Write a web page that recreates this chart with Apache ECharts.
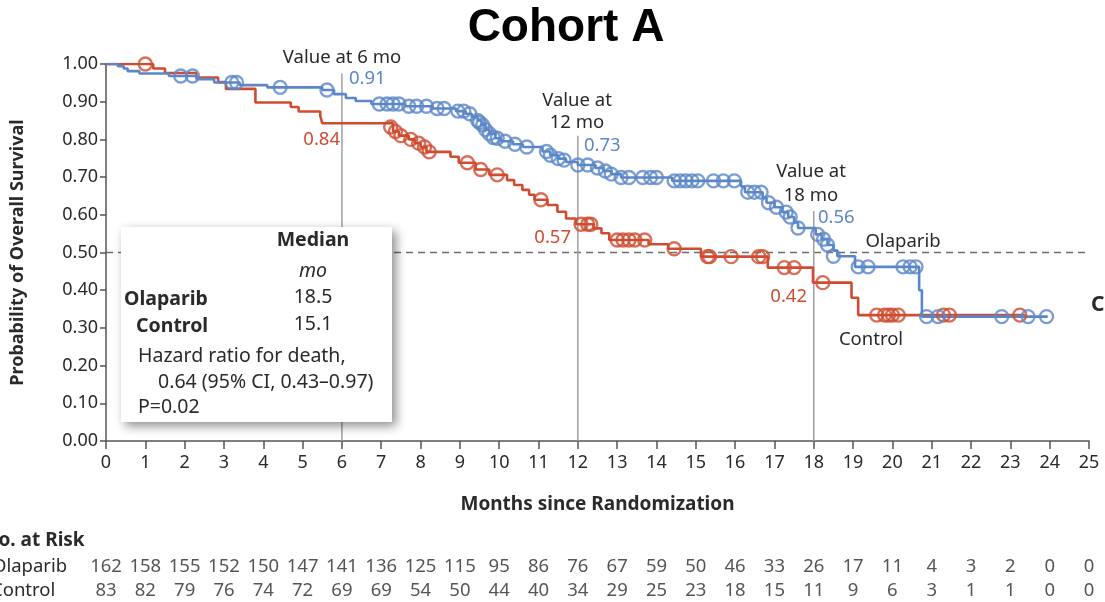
<!DOCTYPE html>
<html><head><meta charset="utf-8">
<script src="https://cdn.jsdelivr.net/npm/echarts/dist/echarts.min.js"></script>
<style>html,body{margin:0;padding:0;background:#fff}#c{width:1105px;height:602px}</style>
</head><body><div id="c"></div>
<script>
// Kaplan-Meier steps: [month, survival after step]
const olaparibSteps = [[0,1.0],[0.3,0.994],[0.45,0.988],[0.55,0.981],[0.85,0.975],[1.6,0.968],[2.3,0.96],[2.75,0.951],[3.4,0.944],[4.1,0.938],[5.5,0.931],[5.8,0.92],[6.1,0.91],[6.35,0.902],[6.75,0.894],[7.6,0.888],[8.3,0.882],[8.9,0.875],[9.15,0.868],[9.3,0.86],[9.45,0.85],[9.55,0.838],[9.65,0.826],[9.75,0.815],[9.9,0.803],[10.05,0.795],[10.35,0.787],[10.6,0.78],[11.1,0.768],[11.3,0.758],[11.5,0.749],[11.7,0.74],[12.0,0.732],[12.45,0.724],[12.65,0.716],[12.85,0.708],[13.1,0.699],[14.4,0.69],[16.15,0.675],[16.25,0.66],[16.7,0.645],[16.8,0.632],[17.0,0.62],[17.2,0.607],[17.35,0.594],[17.5,0.58],[17.6,0.565],[18.05,0.548],[18.2,0.535],[18.35,0.52],[18.5,0.505],[18.6,0.49],[19.05,0.462],[20.68,0.40],[20.75,0.33],[23.95,0.33]];
const olaparibCensors = [[1.9,0.968],[2.2,0.968],[3.2,0.951],[3.32,0.951],[4.43,0.938],[5.62,0.931],[6.95,0.894],[7.15,0.894],[7.3,0.894],[7.45,0.894],[7.7,0.888],[7.9,0.888],[8.15,0.888],[8.42,0.882],[8.6,0.882],[8.95,0.875],[9.1,0.875],[9.25,0.868],[9.45,0.85],[9.5,0.845],[9.58,0.838],[9.65,0.826],[9.75,0.815],[9.85,0.805],[9.95,0.803],[10.15,0.795],[10.4,0.787],[10.7,0.78],[11.2,0.768],[11.3,0.758],[11.5,0.749],[11.65,0.745],[12.0,0.732],[12.25,0.732],[12.5,0.724],[12.7,0.716],[12.85,0.708],[13.1,0.699],[13.3,0.699],[13.65,0.699],[13.85,0.699],[14.0,0.699],[14.45,0.69],[14.6,0.69],[14.75,0.69],[14.9,0.69],[15.05,0.69],[15.45,0.69],[15.7,0.69],[15.98,0.69],[16.32,0.66],[16.49,0.66],[16.66,0.66],[16.85,0.632],[17.05,0.62],[17.3,0.607],[17.4,0.594],[17.6,0.565],[18.1,0.548],[18.25,0.535],[18.35,0.52],[18.5,0.49],[19.13,0.462],[19.38,0.462],[20.27,0.462],[20.45,0.462],[20.6,0.462],[20.87,0.33],[21.16,0.33],[22.78,0.33],[23.45,0.33],[23.92,0.33]];
const controlSteps = [[0,1.0],[1.2,0.988],[1.5,0.976],[2.3,0.964],[2.85,0.952],[3.05,0.934],[3.8,0.898],[4.7,0.886],[4.9,0.874],[5.45,0.862],[5.5,0.843],[7.3,0.821],[7.45,0.81],[7.7,0.80],[7.85,0.79],[8.0,0.78],[8.15,0.767],[8.76,0.754],[8.97,0.738],[9.4,0.72],[9.75,0.706],[10.2,0.692],[10.38,0.679],[10.59,0.666],[10.76,0.653],[10.9,0.64],[11.23,0.626],[11.48,0.608],[11.7,0.59],[11.95,0.575],[12.4,0.564],[12.6,0.551],[12.8,0.533],[13.8,0.522],[14.3,0.51],[15.13,0.489],[16.83,0.46],[17.98,0.42],[18.96,0.38],[19.13,0.334],[23.37,0.334]];
const controlCensors = [[1.0,1.0],[7.24,0.833],[7.36,0.821],[7.5,0.81],[7.75,0.80],[7.95,0.79],[8.1,0.78],[8.22,0.767],[9.19,0.738],[9.53,0.72],[9.95,0.706],[11.06,0.64],[12.08,0.575],[12.25,0.575],[12.33,0.575],[13.0,0.533],[13.15,0.533],[13.3,0.533],[13.45,0.533],[13.7,0.533],[14.45,0.51],[15.3,0.489],[15.35,0.489],[15.9,0.489],[16.6,0.489],[16.7,0.489],[17.25,0.46],[17.5,0.46],[18.23,0.42],[19.6,0.334],[19.8,0.334],[19.9,0.334],[20.0,0.334],[20.15,0.334],[21.3,0.334],[21.45,0.334],[23.24,0.334]];
const refTimes = [6, 12, 18];
const refTops = [0.975, 0.81, 0.61];
const medianLine = 0.5;
const riskMonths = [0,1,2,3,4,5,6,7,8,9,10,11,12,13,14,15,16,17,18,19,20,21,22,23,24,25];
const olaparibAtRisk = [162,158,155,152,150,147,141,136,125,115,95,86,76,67,59,50,46,33,26,17,11,4,3,2,0,0];
const controlAtRisk = [83,82,79,76,74,72,69,69,54,50,44,40,34,29,25,23,18,15,11,9,6,3,1,1,0,0];
const groups = ['Control', 'Olaparib'];

const BLUE = '#5b87c8', RED = '#d04b30', TXT = '#2a2a2a', FONT = '"Noto Sans", sans-serif';
const chart = echarts.init(document.getElementById('c'));

const series = [
  {type:'line', step:'end', data:olaparibSteps, showSymbol:false, lineStyle:{color:BLUE,width:2.6}, z:4, silent:true},
  {type:'scatter', data:olaparibCensors, symbol:'circle', symbolSize:13, itemStyle:{color:'rgba(0,0,0,0)',borderColor:BLUE,borderWidth:2.4}, z:5, silent:true},
  {type:'line', step:'end', data:controlSteps, showSymbol:false, lineStyle:{color:RED,width:2.6}, z:3, silent:true},
  {type:'scatter', data:controlCensors, symbol:'circle', symbolSize:13, itemStyle:{color:'rgba(0,0,0,0)',borderColor:RED,borderWidth:2.4}, z:4, silent:true},
  {type:'line', data:[[0,medianLine],[25,medianLine]], showSymbol:false, lineStyle:{color:'#6e6e6e',width:1.5,type:[7,5]}, z:1, silent:true}
];
refTimes.forEach((t,i)=>series.push({type:'line', data:[[t,0],[t,refTops[i]]], showSymbol:false, lineStyle:{color:'#a0a0a0',width:1.5}, z:1, silent:true}));
const riskLabel = {show:true, position:'inside', formatter:p=>String(p.value[2]), color:TXT, fontFamily:FONT, fontSize:18.5};
series.push({type:'scatter', xAxisIndex:1, yAxisIndex:1, symbolSize:1, itemStyle:{color:'rgba(0,0,0,0)'}, label:riskLabel,
  data: riskMonths.map((m,i)=>[m,'Olaparib',olaparibAtRisk[i]]), silent:true});
series.push({type:'scatter', xAxisIndex:1, yAxisIndex:1, symbolSize:1, itemStyle:{color:'rgba(0,0,0,0)'}, label:riskLabel,
  data: riskMonths.map((m,i)=>[m,'Control',controlAtRisk[i]]), silent:true});

function txt(x,y,text,opt){
  opt = opt||{};
  return {type:'text', x:x, y:y, z:20, style:{text:text, fill:opt.color||TXT, textAlign:opt.align||'center', textVerticalAlign:'middle',
    font:(opt.style||'normal')+' '+(opt.weight||'normal')+' '+(opt.size||18.5)+'px '+(opt.family||FONT)}};
}
const BOX = 19.5;
const graphic = [
  txt(566,28,'Cohort A',{size:46,weight:'bold',family:'"Liberation Sans", Arial, sans-serif',color:'#000'}),
  {type:'rect', z:15, shape:{x:121,y:227,width:271,height:195}, style:{fill:'#fff', shadowBlur:10, shadowOffsetX:4, shadowOffsetY:4, shadowColor:'rgba(0,0,0,0.45)'}},
  txt(313,240,'Median',{weight:'bold',size:BOX}),
  txt(313,271,'mo',{style:'italic',size:BOX}),
  txt(124,299,'Olaparib',{weight:'bold',align:'left',size:BOX}),
  txt(313,297,'18.5',{size:BOX}),
  txt(136,326,'Control',{weight:'bold',align:'left',size:BOX}),
  txt(313,324,'15.1',{size:BOX}),
  txt(138,356,'Hazard ratio for death,',{align:'left',size:BOX}),
  txt(158,382,'0.64 (95% CI, 0.43\u20130.97)',{align:'left',size:BOX}),
  txt(138,407,'P=0.02',{align:'left',size:BOX}),
  txt(342,58,'Value at 6 mo'),
  txt(349,79,'0.91',{align:'left',color:BLUE}),
  txt(340,140,'0.84',{align:'right',color:RED}),
  txt(577,101,'Value at'),
  txt(577,123,'12 mo'),
  txt(584,146,'0.73',{align:'left',color:BLUE}),
  txt(571,238,'0.57',{align:'right',color:RED}),
  txt(811,172,'Value at'),
  txt(811,196,'18 mo'),
  txt(818,218,'0.56',{align:'left',color:BLUE}),
  txt(807,297,'0.42',{align:'right',color:RED}),
  txt(903,242,'Olaparib'),
  txt(871,340,'Control'),
  txt(1091,305,'C',{align:'left',weight:'bold',size:21}),
  txt(-17,541,'No. at Risk',{align:'left',weight:'bold',size:19}),
  txt(-8,567,'Olaparib',{align:'left'}),
  txt(-9,591,'Control',{align:'left'})
];

chart.setOption({
  animation:false,
  backgroundColor:'#fff',
  textStyle:{fontFamily:FONT},
  grid:[{left:106,right:16,top:64,bottom:161,containLabel:false},{left:106,right:16,top:555,height:48}],
  xAxis:[{type:'value', gridIndex:0, min:0, max:25, interval:1,
    name:'Months since Randomization', nameLocation:'middle', nameGap:54,
    nameTextStyle:{fontFamily:FONT,fontWeight:'bold',fontSize:19,color:TXT},
    axisLine:{lineStyle:{color:'#555',width:1.5}}, axisTick:{length:8,lineStyle:{color:'#555',width:1.5}},
    axisLabel:{margin:13,color:TXT,fontSize:18,fontFamily:FONT}, splitLine:{show:false}},
    {type:'value', gridIndex:1, min:0, max:25, show:false}],
  yAxis:[{type:'value', gridIndex:0, min:0, max:1, interval:0.1,
    name:'Probability of Overall Survival', nameLocation:'middle', nameGap:79,
    nameTextStyle:{fontFamily:FONT,fontWeight:'bold',fontSize:18,color:TXT},
    axisLine:{show:true,lineStyle:{color:'#555',width:1.5}}, axisTick:{show:true,length:6,lineStyle:{color:'#555',width:1.5}},
    axisLabel:{margin:8,color:TXT,fontSize:18,fontFamily:FONT,formatter:v=>v.toFixed(2)}, splitLine:{show:false}},
    {type:'category', gridIndex:1, data:groups, show:false}],
  series:series,
  graphic:graphic
});
</script></body></html>
